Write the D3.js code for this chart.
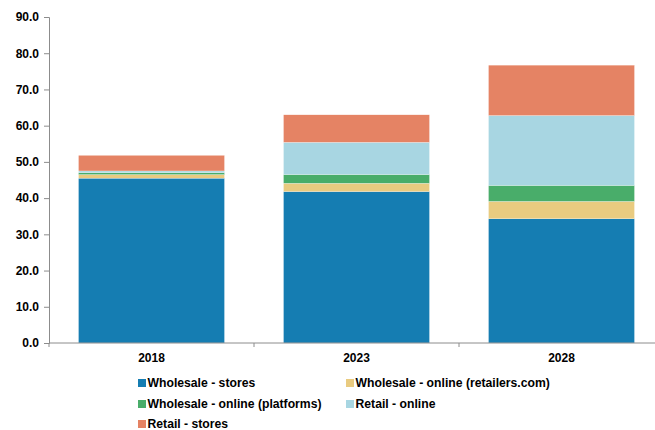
<!DOCTYPE html>
<html>
<head>
<meta charset="utf-8">
<script src="https://cdn.jsdelivr.net/npm/d3@7"></script>
<style>
  html, body { margin: 0; padding: 0; background: #fff; }
  svg { display: block; font-family: "Liberation Sans", Arial, sans-serif; }
</style>
</head>
<body>
<svg id="chart" width="655" height="430"></svg>
<script>
// Years on the x axis
const years = ["2018", "2023", "2028"];

// Series, bottom to top of each stack
const seriesNames = [
  "Wholesale - stores",
  "Wholesale - online (retailers.com)",
  "Wholesale - online (platforms)",
  "Retail - online",
  "Retail - stores"
];
const wholesaleStores   = [45.5, 41.8, 34.3];
const wholesaleRetailers = [1.0, 2.3, 4.8];
const wholesalePlatforms = [0.5, 2.4, 4.4];
const retailOnline      = [0.5, 8.9, 19.3];
const retailStores      = [4.3, 7.6, 13.9];

const seriesColors = ["#157db2", "#e9cb80", "#49ad6a", "#a8d6e2", "#e58364"];

// Y axis ticks
const yTicks = [0, 10, 20, 30, 40, 50, 60, 70, 80, 90];

const seriesValues = [wholesaleStores, wholesaleRetailers, wholesalePlatforms, retailOnline, retailStores];
const rows = years.map((y, i) => {
  const r = { year: y };
  seriesNames.forEach((n, s) => { r[n] = seriesValues[s][i]; });
  return r;
});

const svg = d3.select("#chart");
const plot = { left: 49, right: 664, top: 17, bottom: 343 };

const x = d3.scaleBand()
  .domain(years)
  .range([plot.left, plot.right])
  .paddingInner(0.288)
  .paddingOuter(0.144);

const y = d3.scaleLinear()
  .domain([0, 90])
  .range([plot.bottom, plot.top]);

const stack = d3.stack().keys(seriesNames);
const layers = stack(rows);

// Stacked bars
svg.append("g")
  .selectAll("g")
  .data(layers)
  .join("g")
    .attr("fill", (d, i) => seriesColors[i])
  .selectAll("rect")
  .data(d => d)
  .join("rect")
    .attr("x", d => x(d.data.year))
    .attr("width", x.bandwidth())
    .attr("y", d => y(d[1]))
    .attr("height", d => y(d[0]) - y(d[1]))
    .attr("stroke", "#ffffff")
    .attr("stroke-width", 0.4)
    .attr("stroke-opacity", 0.6);

// Y axis
const yAxis = svg.append("g")
  .attr("transform", `translate(${plot.left},0)`)
  .call(d3.axisLeft(y).tickValues(yTicks).tickFormat(d3.format(".1f")).tickSize(5).tickPadding(5));
yAxis.select(".domain").attr("stroke", "#8c8c8c");
yAxis.selectAll(".tick line").attr("stroke", "#8c8c8c");
yAxis.selectAll(".tick text")
  .attr("font-size", 12)
  .attr("font-weight", "bold")
  .attr("fill", "#000");

// X axis: baseline with tick marks between categories
const xg = svg.append("g");
xg.append("line")
  .attr("x1", plot.left).attr("x2", plot.right)
  .attr("y1", y(0)).attr("y2", y(0))
  .attr("stroke", "#8c8c8c");
const step = x.step();
const gap = step * x.paddingInner();
const dividers = years.slice(1).map(yr => x(yr) - gap / 2).concat([plot.left, plot.right]);
xg.selectAll("line.div")
  .data(dividers)
  .join("line")
    .attr("class", "div")
    .attr("x1", d => d).attr("x2", d => d)
    .attr("y1", y(0)).attr("y2", y(0) + 4)
    .attr("stroke", "#8c8c8c");
xg.selectAll("text")
  .data(years)
  .join("text")
    .attr("x", d => x(d) + x.bandwidth() / 2)
    .attr("y", 362)
    .attr("text-anchor", "middle")
    .attr("font-size", 12)
    .attr("font-weight", "bold")
    .attr("fill", "#000")
    .text(d => d);

// Legend, two columns
const legendPos = [
  { x: 138, y: 383 }, { x: 346, y: 383 },
  { x: 138, y: 404 }, { x: 346, y: 404 },
  { x: 138, y: 424 }
];
const legend = svg.append("g")
  .selectAll("g")
  .data(seriesNames)
  .join("g")
    .attr("transform", (d, i) => `translate(${legendPos[i].x},${legendPos[i].y})`);
legend.append("rect")
  .attr("x", 0).attr("y", -4)
  .attr("width", 8).attr("height", 8)
  .attr("fill", (d, i) => seriesColors[i]);
legend.append("text")
  .attr("x", 9.5)
  .attr("y", 0)
  .attr("dy", "0.35em")
  .attr("font-size", 12.2)
  .attr("font-weight", "bold")
  .attr("fill", "#000")
  .text(d => d);
</script>
</body>
</html>
